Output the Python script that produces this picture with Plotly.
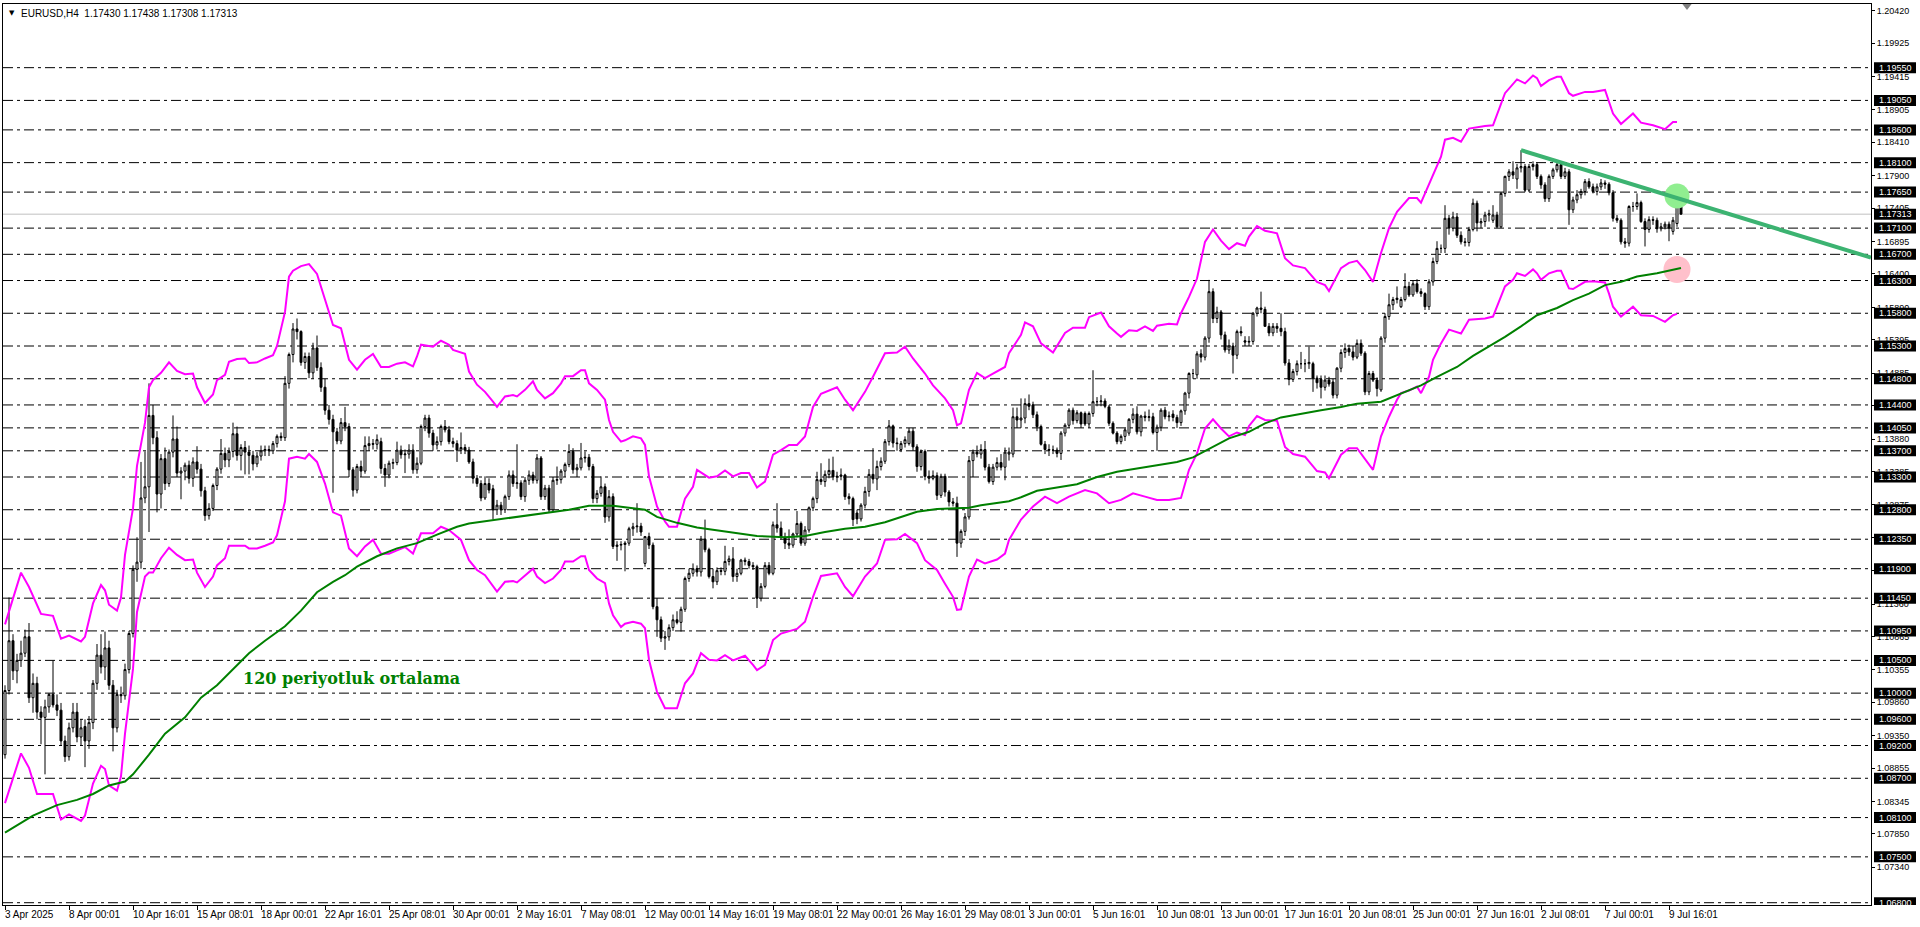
import plotly.graph_objects as go

# ---------------- DATA ----------------
bar_open = [
1.0906,1.1004,1.1080,1.1034,1.1050,1.1061,1.1086,1.0993,1.1015,1.0971,
1.0963,1.0979,1.0998,1.0982,1.0974,1.0927,1.0903,1.0947,1.0971,1.0933,
1.0949,1.0927,1.0955,1.1015,1.1058,1.1040,1.1069,1.1012,1.0947,1.0998,
1.0996,1.1036,1.1091,1.1189,1.1200,1.1298,1.1315,1.1424,1.1390,1.1304,
1.1358,1.1320,1.1368,1.1388,1.1336,1.1339,1.1348,1.1328,1.1353,1.1342,
1.1309,1.1271,1.1282,1.1317,1.1342,1.1366,1.1356,1.1369,1.1396,1.1363,
1.1375,1.1368,1.1363,1.1350,1.1362,1.1370,1.1372,1.1370,1.1381,1.1392,
1.1390,1.1473,1.1517,1.1556,1.1552,1.1505,1.1514,1.1489,1.1527,1.1497,
1.1467,1.1432,1.1418,1.1399,1.1385,1.1413,1.1407,1.1341,1.1310,1.1346,
1.1339,1.1378,1.1381,1.1380,1.1384,1.1343,1.1333,1.1351,1.1352,1.1371,
1.1364,1.1365,1.1371,1.1341,1.1351,1.1407,1.1420,1.1397,1.1379,1.1384,
1.1407,1.1402,1.1384,1.1381,1.1371,1.1375,1.1371,1.1353,1.1328,1.1320,
1.1298,1.1320,1.1312,1.1280,1.1287,1.1280,1.1300,1.1333,1.1320,1.1321,
1.1300,1.1325,1.1333,1.1325,1.1359,1.1300,1.1313,1.1280,1.1325,1.1326,
1.1339,1.1349,1.1369,1.1341,1.1344,1.1359,1.1360,1.1346,1.1297,1.1305,
1.1315,1.1269,1.1300,1.1224,1.1226,1.1227,1.1229,1.1251,1.1254,1.1255,
1.1198,1.1239,1.1226,1.1132,1.1112,1.1084,1.1086,1.1100,1.1112,1.1108,
1.1128,1.1175,1.1183,1.1190,1.1185,1.1235,1.1219,1.1178,1.1170,1.1187,
1.1186,1.1201,1.1205,1.1178,1.1183,1.1203,1.1201,1.1195,1.1193,1.1145,
1.1163,1.1195,1.1183,1.1257,1.1252,1.1238,1.1229,1.1226,1.1243,1.1259,
1.1229,1.1249,1.1283,1.1297,1.1326,1.1323,1.1334,1.1340,1.1330,1.1331,
1.1333,1.1300,1.1297,1.1275,1.1266,1.1287,1.1308,1.1334,1.1327,1.1346,
1.1354,1.1384,1.1408,1.1382,1.1372,1.1381,1.1381,1.1400,1.1376,1.1346,
1.1369,1.1331,1.1328,1.1332,1.1302,1.1331,1.1307,1.1292,1.1290,1.1229,
1.1247,1.1269,1.1355,1.1368,1.1365,1.1372,1.1345,1.1323,1.1345,1.1352,
1.1345,1.1365,1.1365,1.1422,1.1417,1.1420,1.1442,1.1440,1.1425,1.1407,
1.1380,1.1372,1.1371,1.1371,1.1366,1.1397,1.1409,1.1432,1.1416,1.1428,
1.1427,1.1411,1.1427,1.1445,1.1445,1.1446,1.1437,1.1412,1.1397,1.1384,
1.1392,1.1397,1.1418,1.1426,1.1399,1.1423,1.1421,1.1422,1.1398,1.1406,
1.1432,1.1422,1.1426,1.1421,1.1413,1.1431,1.1458,1.1488,1.1486,1.1518,
1.1513,1.1542,1.1613,1.1572,1.1582,1.1547,1.1524,1.1530,1.1516,1.1552,
1.1538,1.1536,1.1537,1.1580,1.1588,1.1586,1.1560,1.1550,1.1560,1.1557,
1.1552,1.1504,1.1479,1.1491,1.1503,1.1503,1.1503,1.1503,1.1481,1.1479,
1.1467,1.1478,1.1475,1.1455,1.1496,1.1520,1.1526,1.1521,1.1513,1.1534,
1.1519,1.1460,1.1488,1.1478,1.1463,1.1542,1.1575,1.1593,1.1601,1.1590,
1.1601,1.1621,1.1608,1.1625,1.1613,1.1610,1.1590,1.1628,1.1659,1.1679,
1.1679,1.1725,1.1710,1.1727,1.1699,1.1689,1.1688,1.1708,1.1748,1.1718,
1.1720,1.1730,1.1722,1.1730,1.1712,1.1763,1.1789,1.1796,1.1785,1.1802,
1.1804,1.1768,1.1804,1.1807,1.1789,1.1776,1.1755,1.1789,1.1799,1.1807,
1.1789,1.1796,1.1738,1.1753,1.1761,1.1766,1.1781,1.1773,1.1766,1.1773,
1.1779,1.1777,1.1764,1.1725,1.1722,1.1689,1.1687,1.1743,1.1743,1.1749,
1.1720,1.1708,1.1723,1.1722,1.1709,1.1712,1.1716,1.1705,1.1717,1.17430]

bar_high = [
1.1012,1.1146,1.1090,1.1060,1.1080,1.1097,1.1107,1.1030,1.1025,1.0980,
1.0990,1.1000,1.1050,1.0998,1.0985,1.0935,1.0955,1.0985,1.0985,1.0960,
1.0960,1.0965,1.1020,1.1075,1.1090,1.1094,1.1080,1.1020,1.1005,1.1010,
1.1045,1.1095,1.1195,1.1238,1.1353,1.1369,1.1473,1.1440,1.1400,1.1365,
1.1375,1.1372,1.1424,1.1407,1.1345,1.1352,1.1355,1.1360,1.1377,1.1350,
1.1315,1.1290,1.1320,1.1345,1.1388,1.1375,1.1375,1.1413,1.1407,1.1380,
1.1385,1.1378,1.1370,1.1368,1.1378,1.1378,1.1378,1.1385,1.1395,1.1398,
1.1484,1.1520,1.1565,1.1572,1.1554,1.1520,1.1520,1.1535,1.1546,1.1505,
1.1480,1.1440,1.1425,1.1405,1.1420,1.1437,1.1412,1.1345,1.1350,1.1355,
1.1392,1.1392,1.1388,1.1395,1.1390,1.1350,1.1355,1.1358,1.1384,1.1378,
1.1372,1.1380,1.1380,1.1360,1.1410,1.1425,1.1425,1.1402,1.1392,1.1410,
1.1417,1.1408,1.1390,1.1386,1.1398,1.1380,1.1376,1.1358,1.1333,1.1325,
1.1331,1.1328,1.1318,1.1295,1.1292,1.1303,1.1340,1.1340,1.1380,1.1325,
1.1330,1.1340,1.1338,1.1365,1.1362,1.1318,1.1318,1.1330,1.1346,1.1342,
1.1352,1.1380,1.1374,1.1350,1.1382,1.1369,1.1365,1.1350,1.1310,1.1331,
1.1320,1.1310,1.1305,1.1232,1.1232,1.1232,1.1254,1.1260,1.1290,1.1260,
1.1240,1.1245,1.1230,1.1145,1.1117,1.1095,1.1105,1.1120,1.1125,1.1132,
1.1178,1.1190,1.1198,1.1195,1.1240,1.1265,1.1222,1.1190,1.1192,1.1192,
1.1225,1.1210,1.1223,1.1190,1.1205,1.1207,1.1205,1.1200,1.1196,1.1168,
1.1200,1.1200,1.1262,1.1290,1.1262,1.1245,1.1250,1.1245,1.1278,1.1262,
1.1255,1.1285,1.1300,1.1338,1.1351,1.1340,1.1358,1.1361,1.1338,1.1343,
1.1335,1.1305,1.1300,1.1280,1.1290,1.1315,1.1342,1.1374,1.1355,1.1360,
1.1388,1.1417,1.1410,1.1390,1.1385,1.1392,1.1405,1.1405,1.1380,1.1372,
1.1372,1.1340,1.1340,1.1337,1.1335,1.1335,1.1310,1.1298,1.1300,1.1250,
1.1275,1.1362,1.1372,1.1378,1.1380,1.1385,1.1350,1.1350,1.1360,1.1365,
1.1375,1.1375,1.1436,1.1436,1.1450,1.1450,1.1456,1.1445,1.1430,1.1410,
1.1385,1.1380,1.1378,1.1375,1.1400,1.1412,1.1435,1.1436,1.1432,1.1430,
1.1430,1.1430,1.1493,1.1452,1.1455,1.1450,1.1440,1.1415,1.1400,1.1395,
1.1405,1.1420,1.1435,1.1438,1.1425,1.1430,1.1433,1.1428,1.1410,1.1435,
1.1437,1.1430,1.1432,1.1425,1.1433,1.1460,1.1490,1.1495,1.1522,1.1525,
1.1545,1.1631,1.1618,1.1590,1.1585,1.1552,1.1540,1.1535,1.1555,1.1560,
1.1545,1.1545,1.1582,1.1590,1.1613,1.1590,1.1565,1.1565,1.1565,1.1580,
1.1558,1.1510,1.1495,1.1508,1.1521,1.1510,1.1529,1.1506,1.1485,1.1485,
1.1485,1.1483,1.1480,1.1498,1.1525,1.1534,1.1532,1.1530,1.1540,1.1540,
1.1522,1.1492,1.1492,1.1482,1.1545,1.1580,1.1610,1.1605,1.1621,1.1605,
1.1641,1.1628,1.1630,1.1632,1.1618,1.1612,1.1632,1.1665,1.1690,1.1685,
1.1745,1.1730,1.1735,1.1733,1.1705,1.1695,1.1712,1.1755,1.1752,1.1725,
1.1735,1.1738,1.1745,1.1735,1.1765,1.1790,1.1800,1.1812,1.1808,1.1829,
1.1808,1.1808,1.1812,1.1810,1.1792,1.1780,1.1792,1.1802,1.1812,1.1810,
1.1802,1.1800,1.1758,1.1768,1.1770,1.1785,1.1786,1.1778,1.1778,1.1785,
1.1783,1.1780,1.1768,1.1730,1.1725,1.1695,1.1745,1.1750,1.1763,1.1752,
1.1725,1.1728,1.1728,1.1726,1.1718,1.1720,1.1720,1.1727,1.1751,1.17438]

bar_low = [
1.0900,1.0998,1.1020,1.1015,1.1040,1.1055,1.0985,1.0970,1.0960,1.0922,
1.0876,1.0970,1.0978,1.0965,1.0920,1.0895,1.0897,1.0940,1.0925,1.0920,
1.0887,1.0915,1.0945,1.1005,1.1030,1.1020,1.1005,1.0911,1.0940,1.0985,
1.0990,1.1030,1.1085,1.1170,1.1190,1.1290,1.1246,1.1380,1.1276,1.1282,
1.1310,1.1315,1.1360,1.1330,1.1296,1.1325,1.1320,1.1315,1.1335,1.1300,
1.1263,1.1265,1.1278,1.1310,1.1335,1.1345,1.1345,1.1360,1.1355,1.1340,
1.1334,1.1334,1.1340,1.1345,1.1355,1.1362,1.1362,1.1365,1.1375,1.1385,
1.1385,1.1465,1.1505,1.1540,1.1500,1.1495,1.1481,1.1480,1.1492,1.1460,
1.1425,1.1410,1.1306,1.1380,1.1380,1.1400,1.1330,1.1300,1.1305,1.1330,
1.1335,1.1370,1.1372,1.1372,1.1335,1.1315,1.1328,1.1342,1.1348,1.1358,
1.1336,1.1358,1.1335,1.1335,1.1348,1.1400,1.1390,1.1370,1.1372,1.1378,
1.1398,1.1380,1.1375,1.1353,1.1365,1.1365,1.1350,1.1320,1.1315,1.1293,
1.1295,1.1305,1.1265,1.1272,1.1272,1.1275,1.1295,1.1315,1.1312,1.1295,
1.1292,1.1318,1.1320,1.1320,1.1295,1.1295,1.1275,1.1278,1.1318,1.1320,
1.1330,1.1345,1.1335,1.1330,1.1340,1.1352,1.1340,1.1290,1.1290,1.1300,
1.1260,1.1262,1.1220,1.1202,1.1218,1.1186,1.1225,1.1240,1.1245,1.1240,
1.1193,1.1220,1.1128,1.1086,1.1078,1.1066,1.1080,1.1095,1.1105,1.1094,
1.1124,1.1170,1.1178,1.1178,1.1178,1.1215,1.1175,1.1160,1.1165,1.1180,
1.1180,1.1195,1.1170,1.1170,1.1180,1.1195,1.1190,1.1188,1.1130,1.1140,
1.1160,1.1180,1.1180,1.1245,1.1235,1.1220,1.1220,1.1222,1.1238,1.1225,
1.1225,1.1245,1.1278,1.1290,1.1318,1.1315,1.1328,1.1325,1.1322,1.1325,
1.1295,1.1288,1.1255,1.1258,1.1262,1.1282,1.1300,1.1320,1.1310,1.1340,
1.1350,1.1378,1.1375,1.1370,1.1368,1.1375,1.1378,1.1370,1.1338,1.1340,
1.1325,1.1320,1.1325,1.1295,1.1298,1.1300,1.1285,1.1285,1.1208,1.1222,
1.1240,1.1265,1.1330,1.1360,1.1358,1.1340,1.1320,1.1318,1.1340,1.1340,
1.1325,1.1355,1.1360,1.1405,1.1405,1.1412,1.1432,1.1420,1.1400,1.1378,
1.1365,1.1362,1.1365,1.1360,1.1356,1.1392,1.1405,1.1410,1.1412,1.1405,
1.1408,1.1405,1.1422,1.1438,1.1438,1.1435,1.1408,1.1395,1.1380,1.1380,
1.1385,1.1393,1.1412,1.1395,1.1392,1.1415,1.1415,1.1395,1.1370,1.1400,
1.1418,1.1415,1.1415,1.1405,1.1408,1.1425,1.1450,1.1480,1.1480,1.1505,
1.1508,1.1535,1.1565,1.1565,1.1540,1.1520,1.1518,1.1488,1.1510,1.1545,
1.1530,1.1530,1.1532,1.1575,1.1580,1.1560,1.1545,1.1545,1.1550,1.1545,
1.1500,1.1470,1.1475,1.1485,1.1495,1.1490,1.1495,1.1460,1.1465,1.1450,
1.1462,1.1468,1.1450,1.1450,1.1490,1.1512,1.1515,1.1508,1.1510,1.1515,
1.1455,1.1455,1.1475,1.1453,1.1460,1.1535,1.1570,1.1585,1.1595,1.1588,
1.1598,1.1605,1.1605,1.1610,1.1605,1.1585,1.1585,1.1622,1.1655,1.1672,
1.1672,1.1700,1.1705,1.1695,1.1685,1.1682,1.1682,1.1705,1.1705,1.1710,
1.1712,1.1720,1.1718,1.1710,1.1710,1.1758,1.1782,1.1785,1.1770,1.1795,
1.1765,1.1765,1.1798,1.1785,1.1770,1.1750,1.1750,1.1785,1.1795,1.1785,
1.1785,1.1715,1.1733,1.1748,1.1755,1.1760,1.1770,1.1763,1.1760,1.1768,
1.1770,1.1760,1.1720,1.1718,1.1685,1.1680,1.1682,1.1735,1.1738,1.1718,
1.1682,1.1703,1.1715,1.1703,1.1705,1.1708,1.1690,1.1700,1.1712,1.17308]

bar_close = [
1.1004,1.1080,1.1034,1.1050,1.1061,1.1086,1.0993,1.1015,1.0971,1.0963,
1.0979,1.0998,1.0982,1.0974,1.0927,1.0903,1.0947,1.0971,1.0933,1.0947,
1.0927,1.0955,1.1015,1.1058,1.1040,1.1069,1.1012,1.0947,1.0998,1.0996,
1.1036,1.1091,1.1189,1.1200,1.1298,1.1315,1.1424,1.1390,1.1304,1.1358,
1.1320,1.1368,1.1388,1.1336,1.1339,1.1348,1.1328,1.1353,1.1342,1.1309,
1.1271,1.1282,1.1317,1.1342,1.1366,1.1356,1.1369,1.1396,1.1363,1.1375,
1.1368,1.1363,1.1350,1.1362,1.1370,1.1372,1.1370,1.1381,1.1392,1.1390,
1.1473,1.1517,1.1556,1.1552,1.1505,1.1514,1.1489,1.1527,1.1497,1.1467,
1.1432,1.1418,1.1399,1.1385,1.1413,1.1407,1.1341,1.1310,1.1346,1.1339,
1.1378,1.1381,1.1380,1.1387,1.1343,1.1333,1.1351,1.1352,1.1371,1.1364,
1.1365,1.1371,1.1341,1.1351,1.1407,1.1420,1.1397,1.1379,1.1384,1.1407,
1.1402,1.1384,1.1381,1.1371,1.1375,1.1371,1.1353,1.1328,1.1320,1.1298,
1.1320,1.1310,1.1280,1.1287,1.1280,1.1300,1.1333,1.1320,1.1321,1.1300,
1.1325,1.1333,1.1325,1.1359,1.1300,1.1313,1.1280,1.1325,1.1326,1.1339,
1.1349,1.1369,1.1341,1.1344,1.1359,1.1360,1.1346,1.1297,1.1305,1.1315,
1.1269,1.1300,1.1224,1.1226,1.1227,1.1229,1.1251,1.1254,1.1255,1.1246,
1.1239,1.1226,1.1132,1.1112,1.1084,1.1086,1.1100,1.1112,1.1108,1.1128,
1.1175,1.1183,1.1190,1.1185,1.1235,1.1219,1.1178,1.1170,1.1187,1.1186,
1.1201,1.1205,1.1178,1.1183,1.1203,1.1201,1.1195,1.1193,1.1145,1.1163,
1.1195,1.1183,1.1257,1.1252,1.1238,1.1229,1.1226,1.1243,1.1259,1.1229,
1.1249,1.1283,1.1297,1.1326,1.1323,1.1334,1.1340,1.1330,1.1331,1.1333,
1.1300,1.1297,1.1265,1.1266,1.1287,1.1308,1.1334,1.1327,1.1346,1.1354,
1.1384,1.1408,1.1382,1.1381,1.1381,1.1387,1.1400,1.1376,1.1346,1.1369,
1.1331,1.1328,1.1332,1.1302,1.1331,1.1307,1.1292,1.1290,1.1229,1.1247,
1.1269,1.1355,1.1368,1.1365,1.1372,1.1345,1.1323,1.1345,1.1352,1.1345,
1.1368,1.1368,1.1422,1.1417,1.1420,1.1442,1.1438,1.1425,1.1407,1.1380,
1.1372,1.1371,1.1371,1.1366,1.1397,1.1409,1.1432,1.1416,1.1428,1.1411,
1.1411,1.1427,1.1445,1.1445,1.1446,1.1438,1.1412,1.1397,1.1384,1.1392,
1.1402,1.1418,1.1426,1.1399,1.1423,1.1421,1.1422,1.1398,1.1406,1.1432,
1.1422,1.1423,1.1421,1.1413,1.1431,1.1458,1.1488,1.1488,1.1518,1.1513,
1.1542,1.1613,1.1572,1.1582,1.1547,1.1524,1.1530,1.1516,1.1552,1.1550,
1.1536,1.1537,1.1580,1.1588,1.1586,1.1560,1.1550,1.1560,1.1557,1.1552,
1.1504,1.1479,1.1491,1.1503,1.1503,1.1503,1.1505,1.1481,1.1474,1.1467,
1.1478,1.1472,1.1455,1.1496,1.1520,1.1526,1.1521,1.1513,1.1534,1.1519,
1.1460,1.1488,1.1478,1.1465,1.1542,1.1575,1.1593,1.1601,1.1603,1.1601,
1.1621,1.1608,1.1625,1.1613,1.1610,1.1590,1.1628,1.1659,1.1679,1.1679,
1.1725,1.1710,1.1727,1.1699,1.1689,1.1688,1.1708,1.1748,1.1718,1.1720,
1.1730,1.1732,1.1730,1.1712,1.1763,1.1789,1.1796,1.1791,1.1802,1.1804,
1.1768,1.1804,1.1807,1.1789,1.1776,1.1755,1.1789,1.1799,1.1807,1.1789,
1.1796,1.1738,1.1753,1.1761,1.1766,1.1781,1.1773,1.1766,1.1773,1.1779,
1.1777,1.1764,1.1725,1.1722,1.1689,1.1687,1.1743,1.1743,1.1749,1.1720,
1.1708,1.1723,1.1722,1.1709,1.1712,1.1716,1.1710,1.1722,1.1743,1.17313]

# Bollinger upper band (bar index, value)
ub_bar = [0,4,6,9,12,14,16,19,20,22,24,25,26,28,29,30,32,33,35,36,37,39,41,43,45,47,48,50,52,53,
          55,56,58,60,61,63,65,67,68,70,71,72,74,76,78,80,82,84,86,88,90,92,94,96,98,100,102,103,104,107,
          109,111,112,115,116,118,120,122,123,125,127,128,130,132,133,135,137,139,140,142,144,145,146,148,150,151,152,154,155,157,
          159,160,161,163,165,166,168,170,172,173,176,178,180,182,184,186,188,190,192,194,196,198,200,202,204,208,210,212,215,217,
          220,223,225,227,230,232,235,237,238,239,241,243,245,247,250,251,254,255,257,259,262,265,267,270,271,274,276,278,279,281,
          283,285,287,288,291,293,294,296,298,300,302,304,306,308,310,311,313,315,318,320,322,325,328,330,331,334,336,338,340,342,
          344,346,348,351,353,354,355,357,359,360,362,364,366,370,372,375,377,378,380,382,383,384,386,388,389,391,392,395,397,400,
          401,402,404,407,409,412,415,417,418]
ub_val = [1.1105,1.1184,1.1162,1.1121,1.1118,1.1083,1.1088,1.1079,1.1086,1.1137,1.1165,1.1157,1.1135,1.1126,1.1146,1.1211,1.1282,1.1347,1.1413,1.1467,1.1478,1.1489,1.1505,1.1492,1.1487,1.1488,1.1467,1.1443,1.1456,1.1478,
          1.1486,1.1506,1.1510,1.1511,1.1504,1.1505,1.1511,1.1516,1.1530,1.1582,1.1636,1.1645,1.1652,1.1655,1.1640,1.1600,1.1562,1.1557,1.1509,1.1494,1.1509,1.1518,1.1498,1.1498,1.1503,1.1505,1.1499,1.1514,1.1532,1.1529,
          1.1538,1.1532,1.1524,1.1518,1.1491,1.1471,1.1460,1.1445,1.1437,1.1453,1.1455,1.1453,1.1463,1.1476,1.1463,1.1450,1.1458,1.1473,1.1484,1.1484,1.1493,1.1493,1.1473,1.1463,1.1448,1.1417,1.1399,1.1384,1.1386,1.1392,
          1.1389,1.1379,1.1331,1.1285,1.1262,1.1254,1.1254,1.1297,1.1315,1.1341,1.1329,1.1331,1.1340,1.1331,1.1336,1.1336,1.1314,1.1323,1.1364,1.1371,1.1379,1.1379,1.1392,1.1437,1.1457,1.1467,1.1448,1.1432,1.1460,1.1483,
          1.1519,1.1520,1.1529,1.1511,1.1488,1.1470,1.1450,1.1432,1.1409,1.1412,1.1463,1.1489,1.1481,1.1488,1.1498,1.1519,1.1547,1.1566,1.1560,1.1534,1.1520,1.1550,1.1558,1.1558,1.1574,1.1581,1.1560,1.1549,1.1544,1.1554,
          1.1553,1.1560,1.1553,1.1561,1.1564,1.1563,1.1580,1.1605,1.1633,1.1689,1.1708,1.1691,1.1678,1.1687,1.1683,1.1697,1.1713,1.1706,1.1702,1.1664,1.1653,1.1649,1.1628,1.1623,1.1614,1.1649,1.1657,1.1660,1.1646,1.1628,
          1.1672,1.1710,1.1735,1.1756,1.1756,1.1749,1.1763,1.1791,1.1819,1.1845,1.1848,1.1842,1.1862,1.1866,1.1867,1.1916,1.1929,1.1937,1.1931,1.1943,1.1939,1.1927,1.1936,1.1941,1.1941,1.1916,1.1912,1.1918,1.1918,1.1921,
          1.1903,1.1885,1.1869,1.1885,1.1871,1.1867,1.1861,1.1872,1.1872]

# Bollinger lower band
lb_bar = [0,4,6,8,12,14,16,19,20,22,24,25,26,28,29,30,32,33,35,36,37,39,41,43,45,47,48,50,52,53,
          55,56,58,60,61,63,65,67,68,70,71,73,75,76,78,80,82,84,86,88,90,92,94,96,98,100,102,104,107,109,
          111,114,116,118,120,122,123,125,127,128,130,132,133,135,137,139,140,142,144,145,146,148,150,151,152,154,155,157,159,160,
          161,163,165,166,168,170,172,174,176,178,180,182,185,187,188,190,192,194,196,198,200,202,204,208,210,212,215,218,220,223,
          225,228,230,233,235,237,238,239,241,243,245,248,250,251,254,257,260,263,266,270,273,276,279,282,285,288,291,294,296,298,
          300,302,304,306,308,310,311,313,315,318,320,322,325,328,330,331,334,336,338,340,342,344,346,348,349,351,353,354,356,357,
          359,361,364,366,370,372,375,377,378,380,382,383,384,386,388,389,391,392,395,397,400,401,402,404,407,409,412,415,417,418]
lb_val = [1.0832,1.0908,1.0886,1.0846,1.0846,1.0807,1.0815,1.0805,1.0813,1.0862,1.0889,1.0884,1.0859,1.0851,1.0873,1.0938,1.1037,1.1124,1.1178,1.1184,1.1184,1.1206,1.1222,1.1211,1.1203,1.1204,1.1184,1.1162,1.1178,1.1195,
          1.1206,1.1225,1.1225,1.1225,1.1221,1.1221,1.1225,1.1230,1.1241,1.1293,1.1358,1.1361,1.1358,1.1365,1.1353,1.1320,1.1276,1.1271,1.1221,1.1209,1.1224,1.1234,1.1213,1.1213,1.1218,1.1223,1.1213,1.1244,1.1244,1.1254,
          1.1249,1.1234,1.1203,1.1188,1.1180,1.1163,1.1155,1.1170,1.1171,1.1169,1.1180,1.1190,1.1178,1.1168,1.1175,1.1188,1.1201,1.1201,1.1209,1.1209,1.1188,1.1175,1.1168,1.1137,1.1119,1.1101,1.1106,1.1109,1.1106,1.1099,
          1.1051,1.1002,1.0977,1.0977,1.0977,1.1015,1.1030,1.1061,1.1051,1.1050,1.1058,1.1050,1.1057,1.1043,1.1035,1.1043,1.1081,1.1091,1.1094,1.1098,1.1109,1.1147,1.1179,1.1183,1.1162,1.1148,1.1178,1.1198,1.1234,1.1235,
          1.1243,1.1229,1.1203,1.1188,1.1167,1.1147,1.1127,1.1128,1.1178,1.1204,1.1198,1.1204,1.1213,1.1234,1.1265,1.1285,1.1300,1.1290,1.1300,1.1310,1.1305,1.1290,1.1295,1.1305,1.1300,1.1295,1.1295,1.1298,1.1341,1.1366,
          1.1404,1.1418,1.1404,1.1392,1.1398,1.1394,1.1408,1.1423,1.1417,1.1416,1.1376,1.1365,1.1361,1.1339,1.1337,1.1328,1.1364,1.1374,1.1374,1.1358,1.1341,1.1392,1.1422,1.1448,1.1458,1.1462,1.1468,1.1458,1.1483,1.1509,
          1.1534,1.1555,1.1549,1.1570,1.1572,1.1575,1.1621,1.1631,1.1641,1.1637,1.1647,1.1641,1.1631,1.1641,1.1645,1.1645,1.1618,1.1617,1.1628,1.1629,1.1627,1.1610,1.1590,1.1575,1.1590,1.1577,1.1576,1.1567,1.1577,1.1579]

# 120-period moving average
ma_bar = [0,4,7,13,18,22,26,30,32,36,40,45,49,53,57,61,65,70,74,78,82,85,88,93,98,103,108,113,116,123,
          129,134,141,146,152,156,160,163,168,173,178,183,188,195,200,205,210,215,220,224,228,233,238,241,244,248,251,254,258,263,
          268,273,278,283,288,293,297,300,303,306,311,315,319,324,329,334,338,344,346,350,354,358,363,367,371,375,379,383,388,392,
          396,400,404,408,413,417,419]
ma_val = [1.0787,1.0802,1.0813,1.0829,1.0837,1.0846,1.0859,1.0865,1.0876,1.0906,1.0938,1.0963,1.0993,1.1012,1.1036,1.1061,1.1080,1.1102,1.1126,1.1154,1.1170,1.1180,1.1193,1.1209,1.1221,1.1229,1.1242,1.1254,1.1259,1.1265,
          1.1269,1.1274,1.1280,1.1286,1.1286,1.1283,1.1280,1.1269,1.1260,1.1253,1.1249,1.1244,1.1240,1.1238,1.1240,1.1246,1.1251,1.1254,1.1261,1.1269,1.1277,1.1281,1.1282,1.1283,1.1287,1.1291,1.1293,1.1299,1.1309,1.1314,
          1.1319,1.1330,1.1338,1.1343,1.1348,1.1353,1.1360,1.1370,1.1380,1.1389,1.1399,1.1412,1.1421,1.1427,1.1432,1.1437,1.1442,1.1445,1.1450,1.1460,1.1470,1.1483,1.1498,1.1515,1.1529,1.1544,1.1560,1.1577,1.1588,1.1600,
          1.1610,1.1623,1.1628,1.1636,1.1641,1.1646,1.1649]

# Trend line (descending resistance)
trend_bar = [379, 466.5]
trend_val = [1.1829, 1.1665]

# Highlight circles
green_circle = (418, 1.1759)
pink_circle = (418, 1.1647)

# Horizontal levels (dash-dot lines with black price boxes)
h_levels = [1.19550, 1.19050, 1.18600, 1.18100, 1.17650, 1.17100, 1.16700, 1.16300, 1.15800, 1.15300,
            1.14800, 1.14400, 1.14050, 1.13700, 1.13300, 1.12800, 1.12350, 1.11900, 1.11450, 1.10950,
            1.10500, 1.10000, 1.09600, 1.09200, 1.08700, 1.08100, 1.07500, 1.06800]
bid_price = 1.17313

# Price scale ticks
y_ticks = [1.20420, 1.19925, 1.19415, 1.18905, 1.18410, 1.17900, 1.17405, 1.16895, 1.16400, 1.15890,
           1.15395, 1.14885, 1.14390, 1.13880, 1.13385, 1.12875, 1.12370, 1.11870, 1.11360, 1.10865,
           1.10355, 1.09860, 1.09350, 1.08855, 1.08345, 1.07850, 1.07340]

# Time scale labels (every 16 bars)
x_labels = ["3 Apr 2025", "8 Apr 00:01", "10 Apr 16:01", "15 Apr 08:01", "18 Apr 00:01", "22 Apr 16:01",
            "25 Apr 08:01", "30 Apr 00:01", "2 May 16:01", "7 May 08:01", "12 May 00:01", "14 May 16:01",
            "19 May 08:01", "22 May 00:01", "26 May 16:01", "29 May 08:01", "3 Jun 00:01", "5 Jun 16:01",
            "10 Jun 08:01", "13 Jun 00:01", "17 Jun 16:01", "20 Jun 08:01", "25 Jun 00:01", "27 Jun 16:01",
            "2 Jul 08:01", "7 Jul 00:01", "9 Jul 16:01"]
label_step = 16

header_text = "EURUSD,H4  1.17430 1.17438 1.17308 1.17313"
ma_text = "120 periyotluk ortalama"
ma_text_pos = (59, 1.1022)

# ---------------- FIGURE ----------------
UI_FONT = "Tahoma, 'Liberation Sans', Arial, sans-serif"
bars = list(range(len(bar_close)))

fig = go.Figure()

fig.add_trace(go.Candlestick(
    x=bars, open=bar_open, high=bar_high, low=bar_low, close=bar_close,
    increasing=dict(line=dict(color="black", width=1), fillcolor="white"),
    decreasing=dict(line=dict(color="black", width=1), fillcolor="black"),
    whiskerwidth=0, showlegend=False, hoverinfo="skip"))

fig.add_trace(go.Scatter(x=[pink_circle[0]], y=[pink_circle[1]], mode="markers",
                         marker=dict(size=27, color="rgb(255,192,203)", line=dict(width=0)),
                         showlegend=False, hoverinfo="skip"))
fig.add_trace(go.Scatter(x=[green_circle[0]], y=[green_circle[1]], mode="markers",
                         marker=dict(size=25, color="rgb(144,238,144)", line=dict(width=0)),
                         showlegend=False, hoverinfo="skip"))

fig.add_trace(go.Scatter(x=ub_bar, y=ub_val, mode="lines", line=dict(color="#FF00FF", width=2),
                         showlegend=False, hoverinfo="skip"))
fig.add_trace(go.Scatter(x=lb_bar, y=lb_val, mode="lines", line=dict(color="#FF00FF", width=2),
                         showlegend=False, hoverinfo="skip"))
fig.add_trace(go.Scatter(x=ma_bar, y=ma_val, mode="lines", line=dict(color="#008000", width=2),
                         showlegend=False, hoverinfo="skip"))
fig.add_trace(go.Scatter(x=trend_bar, y=trend_val, mode="lines", line=dict(color="rgb(60,179,113)", width=4),
                         showlegend=False, hoverinfo="skip"))

# chart-shift marker at top
fig.add_trace(go.Scatter(x=[420.5], y=[1.2049], mode="markers",
                         marker=dict(symbol="triangle-down", size=8, color="rgb(128,128,128)"),
                         cliponaxis=False, showlegend=False, hoverinfo="skip"))

shapes = []
for lv in h_levels:
    shapes.append(dict(type="line", xref="paper", yref="y", x0=0, x1=1, y0=lv, y1=lv,
                       line=dict(color="black", width=1, dash="10px,4px,3px,4px"), layer="below"))
shapes.append(dict(type="line", xref="paper", yref="y", x0=0, x1=1, y0=bid_price, y1=bid_price,
                   line=dict(color="rgb(192,192,192)", width=1), layer="below"))

annotations = []
for lv in h_levels + [bid_price]:
    shapes.append(dict(type="rect", xref="paper", yref="y", xsizemode="pixel", ysizemode="pixel",
                       xanchor=1, yanchor=lv, x0=3, x1=45, y0=-5.5, y1=5.5,
                       fillcolor="black", line=dict(width=0), layer="above"))
    annotations.append(dict(x=1, xref="paper", y=lv, yref="y", xanchor="left", yanchor="middle",
                            xshift=6, text=f"{lv:.5f}", showarrow=False,
                            font=dict(family=UI_FONT, size=9, color="white")))

for k, lab in enumerate(x_labels):
    annotations.append(dict(x=k * label_step, xref="x", y=0, yref="paper", xanchor="left", yanchor="top",
                            xshift=-2, yshift=-2, text=lab, showarrow=False,
                            font=dict(family=UI_FONT, size=10, color="black")))

annotations.append(dict(x=0, xref="paper", y=1, yref="paper", xanchor="left", yanchor="top",
                        xshift=4, yshift=-3, text="▼", showarrow=False,
                        font=dict(family="DejaVu Sans", size=7, color="black")))
annotations.append(dict(x=0, xref="paper", y=1, yref="paper", xanchor="left", yanchor="top",
                        xshift=16, yshift=-2, text=header_text, showarrow=False,
                        font=dict(family=UI_FONT, size=10, color="black")))
annotations.append(dict(x=ma_text_pos[0], xref="x", y=ma_text_pos[1], yref="y", xanchor="left",
                        yanchor="middle", text="<b>" + ma_text + "</b>", showarrow=False,
                        font=dict(family="'DejaVu Serif', serif", size=16, color="rgb(0,128,0)")))

fig.update_layout(
    width=1920, height=927,
    margin=dict(l=3, r=49, t=4, b=22),
    paper_bgcolor="white", plot_bgcolor="white",
    shapes=shapes, annotations=annotations,
    showlegend=False,
    xaxis=dict(range=[-0.5, 466.5], rangeslider=dict(visible=False), showgrid=False, zeroline=False,
               tickvals=[k * label_step for k in range(len(x_labels))], showticklabels=False,
               ticks="outside", ticklen=4, tickcolor="black",
               showline=True, linecolor="black", linewidth=1, mirror=True, fixedrange=True),
    yaxis=dict(range=[1.06765, 1.20522], side="right", showgrid=False, zeroline=False,
               tickvals=y_ticks, ticktext=[f"{v:.5f}" for v in y_ticks],
               ticks="outside", ticklen=3, tickcolor="black",
               tickfont=dict(family=UI_FONT, size=9, color="black"),
               showline=True, linecolor="black", linewidth=1, mirror=True, fixedrange=True),
)

fig.write_html("out.html", config={"displayModeBar": False},
               post_script="document.body.style.margin='0';document.body.style.overflow='hidden';")
